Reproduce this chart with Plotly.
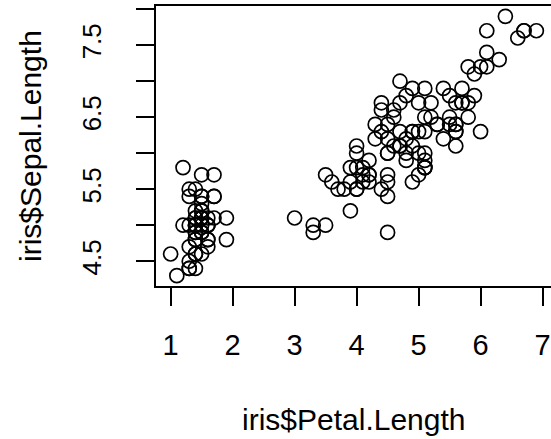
import plotly.graph_objects as go

setosa_petal = [1.4,1.4,1.3,1.5,1.4,1.7,1.4,1.5,1.4,1.5,1.5,1.6,1.4,1.1,1.2,1.5,1.3,1.4,1.7,1.5,1.7,1.5,1.0,1.7,1.9,1.6,1.6,1.5,1.4,1.6,1.6,1.5,1.5,1.4,1.5,1.2,1.3,1.4,1.3,1.5,1.3,1.3,1.3,1.6,1.9,1.4,1.6,1.4,1.5,1.4]
setosa_sepal = [5.1,4.9,4.7,4.6,5.0,5.4,4.6,5.0,4.4,4.9,5.4,4.8,4.8,4.3,5.8,5.7,5.4,5.1,5.7,5.1,5.4,5.1,4.6,5.1,4.8,5.0,5.0,5.2,5.2,4.7,4.8,5.4,5.2,5.5,4.9,5.0,5.5,4.9,4.4,5.1,5.0,4.5,4.4,5.0,5.1,4.8,5.1,4.6,5.3,5.0]
versicolor_petal = [4.7,4.5,4.9,4.0,4.6,4.5,4.7,3.3,4.6,3.9,3.5,4.2,4.0,4.7,3.6,4.4,4.5,4.1,4.5,3.9,4.8,4.0,4.9,4.7,4.3,4.4,4.8,5.0,4.5,3.5,3.8,3.7,3.9,5.1,4.5,4.5,4.7,4.4,4.1,4.0,4.4,4.6,4.0,3.3,4.2,4.2,4.2,4.3,3.0,4.1]
versicolor_sepal = [7.0,6.4,6.9,5.5,6.5,5.7,6.3,4.9,6.6,5.2,5.0,5.9,6.0,6.1,5.6,6.7,5.6,5.8,6.2,5.6,5.9,6.1,6.3,6.1,6.4,6.6,6.8,6.7,6.0,5.7,5.5,5.5,5.8,6.0,5.4,6.0,6.7,6.3,5.6,5.5,5.5,6.1,5.8,5.0,5.6,5.7,5.7,6.2,5.1,5.7]
virginica_petal = [6.0,5.1,5.9,5.6,5.8,6.6,4.5,6.3,5.8,6.1,5.1,5.3,5.5,5.0,5.1,5.3,5.5,6.7,6.9,5.0,5.7,4.9,6.7,4.9,5.7,6.0,4.8,4.9,5.6,5.8,6.1,6.4,5.6,5.1,5.6,6.1,5.6,5.5,4.8,5.4,5.6,5.1,5.1,5.9,5.7,5.2,5.0,5.2,5.4,5.1]
virginica_sepal = [6.3,5.8,7.1,6.3,6.5,7.6,4.9,7.3,6.7,7.2,6.5,6.4,6.8,5.7,5.8,6.4,6.5,7.7,7.7,6.0,6.9,5.6,7.7,6.3,6.7,7.2,6.2,6.1,6.4,7.2,7.4,7.9,6.4,6.3,6.1,7.7,6.3,6.4,6.0,6.9,6.7,6.9,5.8,6.8,6.7,6.7,6.3,6.5,6.2,5.9]

petal_length = setosa_petal + versicolor_petal + virginica_petal
sepal_length = setosa_sepal + versicolor_sepal + virginica_sepal

x_ticks = [1, 2, 3, 4, 5, 6, 7]
y_ticks = [4.5, 5.0, 5.5, 6.0, 6.5, 7.0, 7.5, 8.0]
y_ticktext = ["4.5", "", "5.5", "", "6.5", "", "7.5", ""]

FONT = "Liberation Sans, Arial, Helvetica, sans-serif"

fig = go.Figure()
fig.add_trace(go.Scatter(
    x=petal_length, y=sepal_length, mode="markers",
    marker=dict(symbol="circle-open", size=14, color="black", line=dict(width=1.7, color="black")),
    showlegend=False,
))

fig.update_layout(
    width=551, height=439,
    margin=dict(l=156, r=0, t=6, b=153),
    paper_bgcolor="white", plot_bgcolor="white",
    font=dict(family=FONT, color="black", size=26),
    xaxis=dict(
        range=[0.764, 7.136], tickvals=x_ticks, ticktext=[str(v) for v in x_ticks],
        showgrid=False, zeroline=False, automargin=False,
        showline=True, mirror=True, linecolor="black", linewidth=1.5,
        ticks="outside", ticklen=18, tickwidth=1.5, tickcolor="black",
        ticklabelstandoff=14, tickfont=dict(size=29),
    ),
    yaxis=dict(
        range=[4.156, 8.044], tickvals=y_ticks, ticktext=y_ticktext,
        showgrid=False, zeroline=False, automargin=False,
        showline=True, mirror=True, linecolor="black", linewidth=1.5,
        ticks="outside", ticklen=18, tickwidth=1.5, tickcolor="black",
        tickangle=-90, ticklabelstandoff=25, tickfont=dict(size=26),
    ),
    annotations=[
        dict(text="iris$Petal.Length", xref="paper", yref="paper", x=0.5, y=0,
             xanchor="center", yanchor="middle", yshift=-133, showarrow=False,
             font=dict(size=30, family=FONT)),
        dict(text="iris$Sepal.Length", xref="paper", yref="paper", x=0, y=0.5,
             xanchor="center", yanchor="middle", xshift=-126, textangle=-90, showarrow=False,
             font=dict(size=30, family=FONT)),
    ],
)

fig.write_html(
    "out.html",
    config={"displayModeBar": False},
    post_script="document.body.style.margin='0';document.body.style.overflow='hidden';",
)
